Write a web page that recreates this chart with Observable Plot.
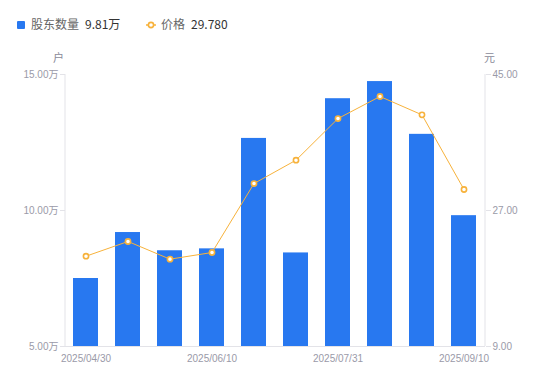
<!DOCTYPE html>
<html>
<head>
<meta charset="utf-8">
<script src="https://cdn.jsdelivr.net/npm/d3@7"></script>
<script src="https://cdn.jsdelivr.net/npm/@observablehq/plot@0.6"></script>
<style>
  html, body { margin: 0; padding: 0; background: #fff; }
  #wrap { position: relative; width: 550px; height: 381px; font-family: "Noto Sans CJK SC", "Liberation Sans", sans-serif; }
  #legend { position: absolute; left: 0; top: 0; width: 550px; height: 40px; font-size: 12px; }
  .lg { position: absolute; top: 16px; line-height: 16px; white-space: nowrap; }
  .lname { color: #666; }
  .lval { color: #333; margin-left: 6px; }
  .unit { position: absolute; font-size: 11px; color: #8a8a99; }
</style>
</head>
<body>
<div id="wrap">
  <div id="legend">
    <svg style="position:absolute;left:0;top:0" width="200" height="40">
      <rect x="17" y="21" width="8" height="8" rx="1" fill="#2878F0"></rect>
      <line x1="146" y1="25" x2="156" y2="25" stroke="#F7B23B" stroke-width="1.5"></line>
      <circle cx="151" cy="25" r="2.6" fill="#fff" stroke="#F7B23B" stroke-width="1.6"></circle>
    </svg>
    <div class="lg" style="left:31px"><span class="lname">股东数量</span><span class="lval">9.81万</span></div>
    <div class="lg" style="left:161px"><span class="lname">价格</span><span class="lval">29.780</span></div>
  </div>
  <div class="unit" style="left:53px;top:49px">户</div>
  <div class="unit" style="left:484px;top:49px">元</div>
  <div id="chart"></div>
</div>
<script>
const dates = ["2025/04/30","2025/05/20","2025/05/30","2025/06/10","2025/06/20","2025/06/30","2025/07/31","2025/08/20","2025/08/29","2025/09/10"];
const holders = [7.50, 9.19, 8.52, 8.59, 12.65, 8.44, 14.11, 14.74, 12.80, 9.81]; // 万户
const prices = [20.95, 22.90, 20.56, 21.44, 30.57, 33.66, 39.17, 42.09, 39.66, 29.78]; // 元
const leftTicks = [5, 10, 15];
const rightMin = 9, rightMax = 45;
const shownDates = [dates[0], dates[3], dates[6], dates[9]];

const toLeft = p => 5 + (p - rightMin) / (rightMax - rightMin) * 10;
const rows = dates.map((d, i) => ({date: d, holders: holders[i], price: prices[i], py: toLeft(prices[i])}));

const axisColor = "#e3e3e8";
const labelColor = "#9a9aa8";

const chart = Plot.plot({
  width: 550,
  height: 381,
  marginTop: 74,
  marginBottom: 35,
  marginLeft: 65,
  marginRight: 65,
  style: {fontFamily: "'Liberation Sans', 'Noto Sans CJK SC', sans-serif", fontSize: "10px", background: "transparent"},
  x: {type: "band", domain: dates, paddingInner: 0.4, paddingOuter: 0.2},
  y: {domain: [5, 15]},
  marks: [
    Plot.barY(rows, {x: "date", y1: 5, y2: "holders", fill: "#2878F0", inset: 0}),
    Plot.ruleY([5], {stroke: axisColor}),
    Plot.axisY({anchor: "left", ticks: leftTicks, tickFormat: d => d.toFixed(2) + "万", tickSize: 5, tickPadding: 2, stroke: axisColor, color: labelColor, label: null}),
    Plot.axisY({anchor: "right", ticks: leftTicks, tickFormat: d => (rightMin + (d - 5) * (rightMax - rightMin) / 10).toFixed(2), tickSize: 5, tickPadding: 2, stroke: axisColor, color: labelColor, label: null}),
    Plot.axisX({ticks: shownDates, tickSize: 0, tickPadding: 8, color: labelColor, label: null}),
    Plot.lineY(rows, {x: "date", y: "py", stroke: "#F7B23B", strokeWidth: 1}),
    Plot.dot(rows, {x: "date", y: "py", r: 2.6, fill: "#fff", stroke: "#F7B23B", strokeWidth: 1.6})
  ]
});
document.getElementById("chart").appendChild(chart);

// vertical axis lines on both sides
const svg = d3.select(chart);
const ys = chart.scale("y");
svg.append("line").attr("x1", 65).attr("x2", 65).attr("y1", ys.apply(15)).attr("y2", ys.apply(5)).attr("stroke", axisColor);
svg.append("line").attr("x1", 485).attr("x2", 485).attr("y1", ys.apply(15)).attr("y2", ys.apply(5)).attr("stroke", axisColor);
</script>
</body>
</html>
